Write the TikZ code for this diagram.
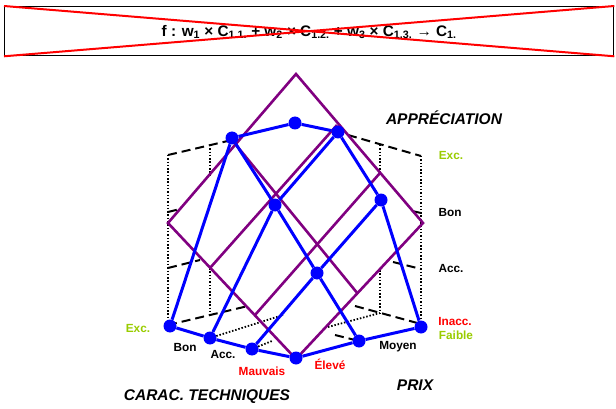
\documentclass[tikz,border=0pt]{standalone}
\usepackage{fontspec}
\setmainfont{Liberation Sans}
\usetikzlibrary{calc}
\definecolor{plum}{HTML}{800080}
\definecolor{lime}{HTML}{99CC00}
\definecolor{alert}{HTML}{FF0000}

\begin{document}
\begin{tikzpicture}[x=1pt, y=-1pt,
  dot/.style={circle, fill=blue, inner sep=0pt, minimum size=13pt},
  link/.style={blue, line width=3pt},
  plane/.style={plum, line width=2.6pt},
  hid/.style={black, line width=2pt, dash pattern=on 9pt off 5pt},
  rail/.style={black, line width=1.8pt, dash pattern=on 1.5pt off 1.8pt},
  lab/.style={font=\fontsize{11.8}{13}\selectfont\bfseries, inner sep=0pt},
  axis/.style={font=\fontsize{15.5}{17}\selectfont\bfseries\itshape, inner sep=0pt}
]
\useasboundingbox (0,0) rectangle (616,409);

\node[draw, line width=1.3pt, minimum width=609pt, minimum height=49pt, inner sep=0pt, anchor=north west] (fbox) at (4,6) {};
\node[font=\fontsize{15.3}{17}\selectfont\bfseries] (formula) at ([yshift=-1pt]fbox.center)
  {f : w\textsubscript{1} × C\textsubscript{1.1.} + w\textsubscript{2} × C\textsubscript{1.2.} + w\textsubscript{3} × C\textsubscript{1.3.} → C\textsubscript{1.}};
\draw[alert, line width=2pt] (fbox.north west) -- (fbox.south east) (fbox.south west) -- (fbox.north east);

\draw[hid] (168,155) -- (232,140);
\draw[hid] (168,212) -- (180,209);
\draw[hid] (168,268) -- (200,260);
\draw[hid] (168,325) -- (248,306);
\draw[hid] (348,135) -- (421,156);
\draw[hid] (412,211) -- (421,213);
\draw[hid] (393,262) -- (421,269);
\draw[hid] (355,306) -- (421,324);
\draw[hid] (335,335) -- (355,340);
\draw[rail] (168,155) -- (168,325);
\draw[rail] (210,145) -- (210,175);
\draw[rail] (210,268) -- (210,315);
\draw[rail] (380,145) -- (380,172);
\draw[rail] (380,270) -- (380,313);
\draw[rail] (421,156) -- (421,325);
\draw[rail] (210,338) -- (283,315);
\draw[rail] (252,349) -- (272,341);
\draw[rail] (328,327) -- (380,313);

\coordinate (q30) at (168,223);
\coordinate (q31) at (232,140);
\coordinate (q32) at (296,74);
\coordinate (q20) at (210,268);
\coordinate (q22) at (337,125);
\coordinate (q10) at (255,315);
\coordinate (q12) at (380,173);
\coordinate (q00) at (296,359);
\coordinate (q01) at (358,294);
\coordinate (q02) at (423,223);
\draw[plane] (q30) -- (q32) -- (q02) -- (q00) -- cycle;
\draw[plane] (q20) -- (q22);
\draw[plane] (q10) -- (q12);
\draw[plane] (q31) -- (q01);

\node[dot] (exel) at (170,326) {};
\node[dot] (boel) at (210,338) {};
\node[dot] (acel) at (252,349) {};
\node[dot] (mael) at (296,358) {};
\node[dot] (exmo) at (232,138) {};
\node[dot] (bomo) at (275,205) {};
\node[dot] (acmo) at (317,273) {};
\node[dot] (mamo) at (359,341) {};
\node[dot] (exfa) at (295,123) {};
\node[dot] (bofa) at (338,132) {};
\node[dot] (acfa) at (381,200) {};
\node[dot] (mafa) at (421,327) {};
\foreach \c in {ex,bo,ac,ma}
  \draw[link] (\c el) -- (\c mo) -- (\c fa);
\foreach \p in {el,mo,fa}
  \draw[link] (ex\p) -- (bo\p) -- (ac\p) -- (ma\p);

\node[axis] (appr) at (444,118) {APPRÉCIATION};
\node[axis] (carac) at (207,397) {CARAC. TECHNIQUES};
\node[axis] (prix) at (415,385) {PRIX};
\node[lab, lime] (zExc) at (451,155) {Exc.};
\node[lab] (zBon) at (450,212) {Bon};
\node[lab] (zAcc) at (451,268) {Acc.};
\node[lab, alert] (zInacc) at (455,321) {Inacc.};
\node[lab, lime] (pFaible) at (456,335) {Faible};
\node[lab] (pMoyen) at (398,347) {Moyen};
\node[lab, alert] (pEleve) at (330,364) {Élevé};
\node[lab, lime] (cExc) at (138,328) {Exc.};
\node[lab] (cBon) at (185,347) {Bon};
\node[lab] (cAcc) at (223,354) {Acc.};
\node[lab, alert] (cMauvais) at (262,371) {Mauvais};
\end{tikzpicture}
\end{document}
